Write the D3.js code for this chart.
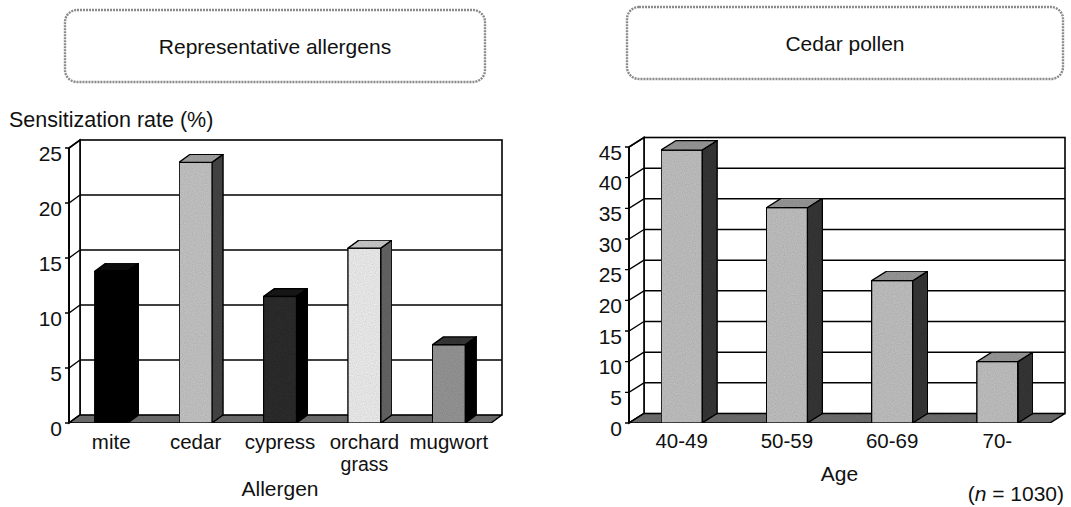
<!DOCTYPE html>
<html>
<head>
<meta charset="utf-8">
<script src="https://cdn.jsdelivr.net/npm/d3@7"></script>
<style>
  html, body { margin: 0; padding: 0; background: #fff; }
  svg { display: block; }
  text { font-family: "Liberation Sans", Arial, Helvetica, sans-serif; fill: #111; }
</style>
</head>
<body>
<svg id="chart" width="1071" height="507"></svg>
<script>
// ---- Data ----
const allergenCategories = ["mite", "cedar", "cypress", "orchard grass", "mugwort"];
const allergenRates = [13.8, 23.7, 11.5, 15.9, 7.1];
const allergenTicks = [0, 5, 10, 15, 20, 25];

const ageCategories = ["40-49", "50-59", "60-69", "70-"];
const cedarPollenRates = [44.5, 35.1, 23.2, 10.0];
const ageTicks = [0, 5, 10, 15, 20, 25, 30, 35, 40, 45];

const leftTitle = "Representative allergens";
const rightTitle = "Cedar pollen";
const leftYLabel = "Sensitization rate (%)";
const leftXLabel = "Allergen";
const rightXLabel = "Age";

// ---- Styles (front, side, top) ----
const leftBarStyles = [
  { front: "#050505", side: "#000000", top: "#151515" },
  { front: "#c6c6c6", side: "#474747", top: "#a4a4a4" },
  { front: "#2e2e2e", side: "#050505", top: "#1c1c1c" },
  { front: "#f0f0f0", side: "#666666", top: "#cccccc" },
  { front: "#979797", side: "#0a0a0a", top: "#383838" }
];
const rightBarStyle = { front: "#c2c2c2", side: "#383838", top: "#9a9a9a" };

const FS = 21;
const svg = d3.select("#chart");

// stipple-ish texture filter
const defs = svg.append("defs");
const f = defs.append("filter").attr("id", "grain").attr("x", 0).attr("y", 0).attr("width", 1).attr("height", 1);
f.append("feTurbulence").attr("type", "fractalNoise").attr("baseFrequency", 0.9).attr("numOctaves", 1).attr("seed", 3).attr("result", "noise");
f.append("feColorMatrix").attr("in", "noise").attr("type", "matrix")
  .attr("values", "0 0 0 0 0  0 0 0 0 0  0 0 0 0 0  0 0 0 0.35 -0.05").attr("result", "dots");
f.append("feComposite").attr("in", "dots").attr("in2", "SourceGraphic").attr("operator", "in").attr("result", "dotsIn");
f.append("feMerge").selectAll("feMergeNode").data(["SourceGraphic", "dotsIn"]).join("feMergeNode").attr("in", d => d);

function titleBox(x, y, w, h, text) {
  svg.append("rect").attr("x", x).attr("y", y).attr("width", w).attr("height", h)
    .attr("rx", 12).attr("ry", 12)
    .attr("fill", "none").attr("stroke", "#8a8a8a").attr("stroke-width", 2.4)
    .attr("stroke-dasharray", "2 1");
  svg.append("text").attr("x", x + w / 2).attr("y", y + h / 2)
    .attr("text-anchor", "middle").attr("dominant-baseline", "central")
    .attr("font-size", FS).text(text);
}

function chart3D(opt) {
  const g = svg.append("g");
  const { x0, x1, yZero, yMaxPx, max, dx, dy, cats, vals, ticks, styleFor } = opt;
  const y = d3.scaleLinear().domain([0, max]).range([yZero, yMaxPx]);
  const x = d3.scaleBand().domain(cats).range([x0, x1]).paddingInner(0.61).paddingOuter(0.305);

  // back wall
  g.append("rect").attr("x", x0 + dx).attr("y", y(max) - dy)
    .attr("width", x1 - x0).attr("height", y(0) - y(max))
    .attr("fill", "#fff").attr("stroke", "#000").attr("stroke-width", 1.6);
  // gridlines on back wall
  g.selectAll(".grid").data(ticks.filter(t => t > 0 && t < max)).join("line")
    .attr("x1", x0 + dx).attr("x2", x1 + dx)
    .attr("y1", d => y(d) - dy).attr("y2", d => y(d) - dy)
    .attr("stroke", "#000").attr("stroke-width", 1.5);
  // side wall
  g.append("path")
    .attr("d", `M${x0},${y(0)}L${x0},${y(max)}L${x0 + dx},${y(max) - dy}L${x0 + dx},${y(0) - dy}Z`)
    .attr("fill", "#fff").attr("stroke", "#000").attr("stroke-width", 1.6);
  // tick connectors
  g.selectAll(".tk").data(ticks).join("path")
    .attr("d", d => `M${x0 - 4},${y(d)}L${x0},${y(d)}L${x0 + dx},${y(d) - dy}`)
    .attr("fill", "none").attr("stroke", "#000").attr("stroke-width", 1.3);
  // floor
  g.append("path")
    .attr("d", `M${x0},${y(0)}L${x1},${y(0)}L${x1 + dx},${y(0) - dy}L${x0 + dx},${y(0) - dy}Z`)
    .attr("fill", "#707070").attr("stroke", "#000").attr("stroke-width", 1.4)
    .attr("filter", "url(#grain)");
  // front axis line
  g.append("line").attr("x1", x0).attr("x2", x0).attr("y1", y(0)).attr("y2", y(max))
    .attr("stroke", "#000").attr("stroke-width", 1.8);

  // bars
  const bars = g.selectAll(".bar").data(cats.map((c, i) => ({ c, v: vals[i], i }))).join("g");
  bars.append("rect")
    .attr("x", d => x(d.c)).attr("y", d => y(d.v))
    .attr("width", x.bandwidth()).attr("height", d => y(0) - y(d.v))
    .attr("fill", d => styleFor(d.i).front).attr("stroke", "#000").attr("stroke-width", 1.3)
    .attr("filter", "url(#grain)");
  bars.append("path")
    .attr("d", d => {
      const xr = x(d.c) + x.bandwidth();
      return `M${xr},${y(0)}L${xr},${y(d.v)}L${xr + dx},${y(d.v) - dy}L${xr + dx},${y(0) - dy}Z`;
    })
    .attr("fill", d => styleFor(d.i).side).attr("stroke", "#000").attr("stroke-width", 1.3)
    .attr("filter", "url(#grain)");
  bars.append("path")
    .attr("d", d => {
      const xl = x(d.c), xr = xl + x.bandwidth(), yt = y(d.v);
      return `M${xl},${yt}L${xr},${yt}L${xr + dx},${yt - dy}L${xl + dx},${yt - dy}Z`;
    })
    .attr("fill", d => styleFor(d.i).top).attr("stroke", "#000").attr("stroke-width", 1.3)
    .attr("filter", "url(#grain)");

  // tick labels
  g.selectAll(".tl").data(ticks).join("text")
    .attr("x", x0 - 7).attr("y", d => y(d) + 5)
    .attr("text-anchor", "end").attr("dominant-baseline", "central")
    .attr("font-size", FS).text(d => d);

  // category labels (multi-word labels wrap onto separate lines)
  const lines = [];
  cats.forEach(c => c.split(" ").forEach((w, k) => lines.push({ c, w, k })));
  g.selectAll(".cl").data(lines).join("text")
    .attr("x", d => x(d.c) + x.bandwidth() / 2)
    .attr("y", d => opt.catBaseline + d.k * 22)
    .attr("text-anchor", "middle").attr("font-size", d => d.k === 0 ? FS - 0.5 : FS - 1.5)
    .text(d => d.w);

  g.append("text").attr("x", (x0 + x1) / 2).attr("y", opt.xLabelBaseline)
    .attr("text-anchor", "middle").attr("font-size", FS).text(opt.xLabel);
  return g;
}

// titles
titleBox(65, 10, 420, 72, leftTitle);
titleBox(627, 7, 436, 72, rightTitle);

// left y label
svg.append("text").attr("x", 9).attr("y", 127).attr("font-size", 21.5).text(leftYLabel);

chart3D({
  x0: 69, x1: 491, yZero: 423, yMaxPx: 148, max: 25, dx: 11, dy: 8,
  cats: allergenCategories, vals: allergenRates, ticks: allergenTicks,
  styleFor: i => leftBarStyles[i], catBaseline: 449, xLabel: leftXLabel, xLabelBaseline: 496
});

chart3D({
  x0: 629, x1: 1050, yZero: 423, yMaxPx: 147, max: 45, dx: 15, dy: 9.5,
  cats: ageCategories, vals: cedarPollenRates, ticks: ageTicks,
  styleFor: () => rightBarStyle, catBaseline: 448, xLabel: rightXLabel, xLabelBaseline: 481
});

// n annotation
const nt = svg.append("text").attr("x", 1064).attr("y", 501).attr("text-anchor", "end").attr("font-size", FS);
nt.append("tspan").text("(");
nt.append("tspan").attr("font-style", "italic").text("n");
nt.append("tspan").text(" = 1030)");
</script>
</body>
</html>
